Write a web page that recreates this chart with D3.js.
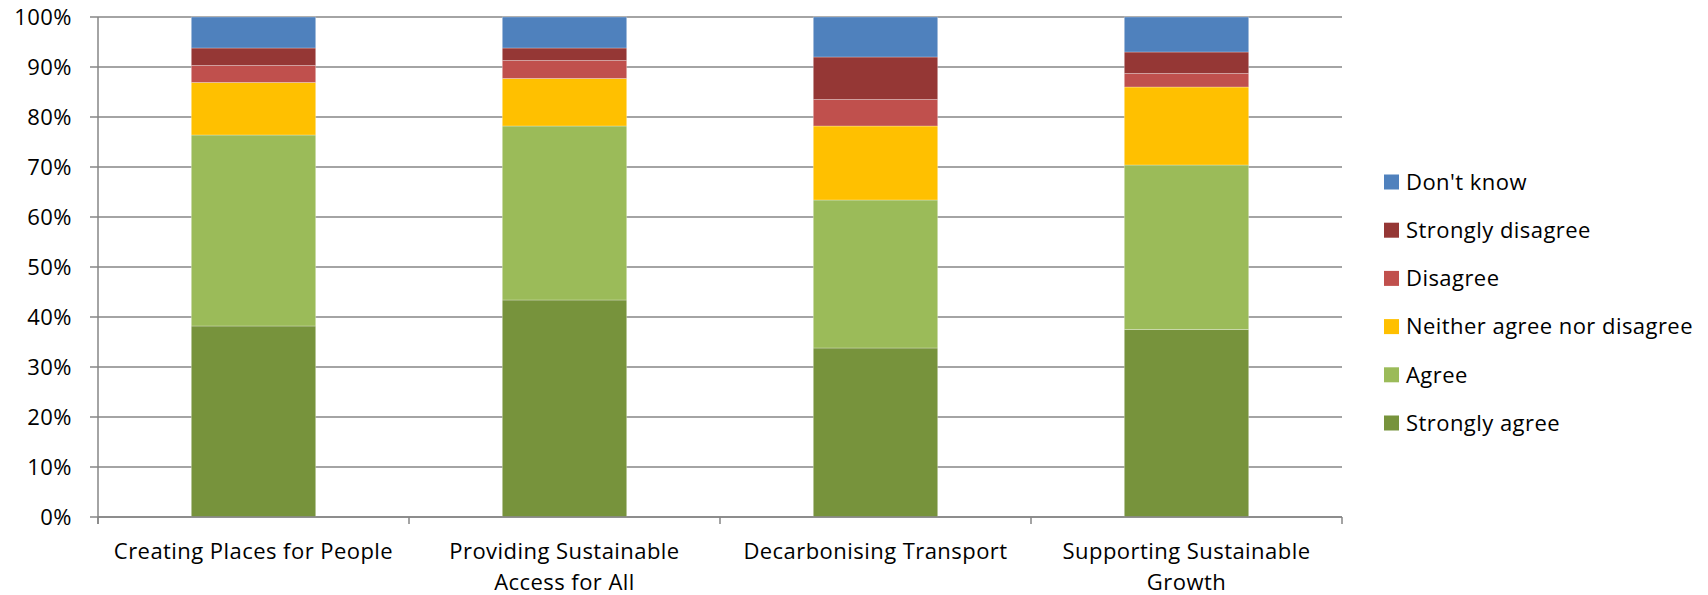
<!DOCTYPE html>
<html>
<head>
<meta charset="utf-8">
<script src="https://cdn.jsdelivr.net/npm/d3@7"></script>
<style>
  body { margin: 0; background: #fff; }
  text { font-family: "Open Sans", sans-serif; fill: #000; letter-spacing: 0.45px; }
</style>
</head>
<body>
<svg id="chart" width="1708" height="595"></svg>
<script>
// categories along the x axis, each label split into its lines
const categories = ["Creating Places for People", "Providing Sustainable Access for All", "Decarbonising Transport", "Supporting Sustainable Growth"];
const categoryLines = [["Creating Places for People"], ["Providing Sustainable", "Access for All"], ["Decarbonising Transport"], ["Supporting Sustainable", "Growth"]];

// series, bottom to top
const seriesNames = ["Strongly agree", "Agree", "Neither agree nor disagree", "Disagree", "Strongly disagree", "Don't know"];
const seriesColors = ["#77933C", "#9BBB59", "#FFC000", "#C0504D", "#953735", "#4F81BD"];

// percentages, one value per category
const stronglyAgree = [38.2, 43.4, 33.8, 37.5];
const agree = [38.2, 34.8, 29.6, 32.9];
const neither = [10.5, 9.5, 14.8, 15.6];
const disagree = [3.4, 3.6, 5.3, 2.7];
const stronglyDisagree = [3.5, 2.5, 8.5, 4.3];
const dontKnow = [6.2, 6.2, 8.0, 7.0];

const yTicks = [0, 10, 20, 30, 40, 50, 60, 70, 80, 90, 100];

const seriesValues = [stronglyAgree, agree, neither, disagree, stronglyDisagree, dontKnow];

const margin = {left: 98, right: 366, top: 17, bottom: 78};
const width = 1708 - margin.left - margin.right;
const height = 595 - margin.top - margin.bottom;
const gridColor = "#868686";
const fontSize = "22px";

const svg = d3.select("#chart");
const g = svg.append("g").attr("transform", `translate(${margin.left},${margin.top})`);

const x = d3.scaleBand().domain(categories).range([0, width]).paddingInner(0.6).paddingOuter(0.3);
const y = d3.scaleLinear().domain([0, 100]).range([height, 0]);

// build the table the stack layout wants
const rows = categories.map((c, i) => {
	let row = {category: c};
	seriesNames.forEach((s, j) => { row[s] = seriesValues[j][i]; });
	return row;
});
const stacked = d3.stack().keys(seriesNames)(rows);

// gridlines
g.append("g")
	.selectAll("line")
	.data(yTicks)
	.join("line")
	.attr("x1", -8)
	.attr("x2", width)
	.attr("y1", d => y(d))
	.attr("y2", d => y(d))
	.style("stroke", gridColor)
	.style("stroke-width", 1.3);

// y tick labels
g.append("g")
	.selectAll("text")
	.data(yTicks)
	.join("text")
	.attr("x", -26)
	.attr("y", d => y(d))
	.attr("dy", "0.35em")
	.attr("text-anchor", "end")
	.style("font-size", fontSize)
	.text(d => d + "%");

// bars
g.append("g")
	.selectAll("g")
	.data(stacked)
	.join("g")
	.style("fill", (d, i) => seriesColors[i])
	.selectAll("rect")
	.data(d => d)
	.join("rect")
	.attr("x", d => x(d.data.category))
	.attr("width", x.bandwidth())
	.attr("y", d => y(d[1]))
	.attr("height", d => y(d[0]) - y(d[1]))
	.style("stroke", "#fff")
	.style("stroke-opacity", 0.35)
	.style("stroke-width", 0.8);

// axis lines and x ticks
const step = width / categories.length;
g.append("line")
	.attr("x1", 0).attr("x2", 0)
	.attr("y1", 0).attr("y2", height + 7)
	.style("stroke", gridColor).style("stroke-width", 1.5);
g.append("line")
	.attr("x1", 0).attr("x2", width)
	.attr("y1", height).attr("y2", height)
	.style("stroke", gridColor).style("stroke-width", 1.5);
g.append("g")
	.selectAll("line")
	.data(d3.range(categories.length + 1))
	.join("line")
	.attr("x1", d => d * step)
	.attr("x2", d => d * step)
	.attr("y1", height)
	.attr("y2", height + 7)
	.style("stroke", gridColor)
	.style("stroke-width", 1.5);

// x labels
g.append("g")
	.selectAll("text")
	.data(categories)
	.join("text")
	.attr("text-anchor", "middle")
	.attr("x", d => x(d) + x.bandwidth() / 2)
	.attr("y", height + 42)
	.style("font-size", fontSize)
	.each(function(d, i) {
		d3.select(this).selectAll("tspan")
			.data(categoryLines[i])
			.join("tspan")
			.attr("x", x(d) + x.bandwidth() / 2)
			.attr("dy", (t, k) => k == 0 ? 0 : 31)
			.text(t => t);
	});

// legend, top entry is the last series
const legend = svg.append("g").attr("transform", "translate(1384,182)");
const legendItems = legend.selectAll("g")
	.data(seriesNames.slice().reverse())
	.join("g")
	.attr("transform", (d, i) => `translate(0,${i * 48.2})`);
legendItems.append("rect")
	.attr("x", 0)
	.attr("y", -7.5)
	.attr("width", 15)
	.attr("height", 15)
	.style("fill", d => seriesColors[seriesNames.indexOf(d)]);
legendItems.append("text")
	.attr("x", 22)
	.attr("y", 0)
	.attr("dy", "0.35em")
	.style("font-size", fontSize)
	.text(d => d);
</script>
</body>
</html>
